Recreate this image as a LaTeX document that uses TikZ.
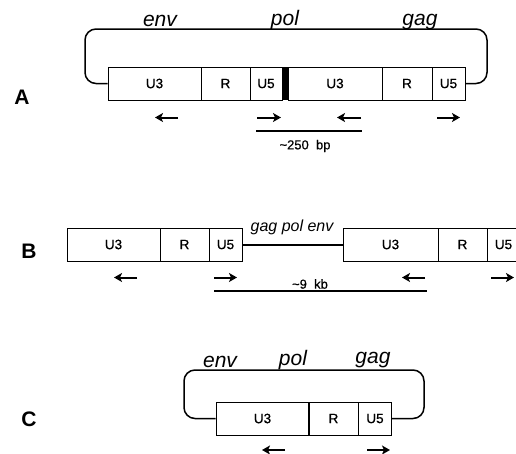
\documentclass[tikz,border=0pt]{standalone}
\usepackage{fontspec}
\setmainfont{Liberation Sans}
\newfontfamily\medfont[FakeBold=0.6]{Liberation Sans}
\usetikzlibrary{arrows.meta}
\tikzset{
 x=1pt,y=-1pt,
 cell/.style={draw=black,line width=1pt,inner sep=0pt,minimum height=33pt,font=\medfont\fontsize{13.5}{14}\selectfont},
 loopline/.style={draw=black,line width=1.5pt,rounded corners=11pt},
 primer/.style={draw=black,line width=2pt,-{Stealth[length=8pt,width=9pt,inset=2pt]}},
 spanline/.style={draw=black,line width=2pt},
 gene/.style={font=\fontsize{21}{21}\selectfont\itshape,inner sep=0pt,anchor=base},
 smalllabel/.style={font=\medfont\fontsize{13}{14}\selectfont,inner sep=0pt},
 panel/.style={font=\fontsize{21}{21}\selectfont\bfseries,inner sep=0pt},
}
\begin{document}
\begin{tikzpicture}
\useasboundingbox (0,0) rectangle (516,453);
% Panel A
\node[cell,minimum width=93pt] (a1) at (154.5,83.5) {U3};
\node[cell,minimum width=49pt] (a2) at (225.5,83.5) {R};
\node[cell,minimum width=32pt] (a3) at (266,83.5) {U5};
\node[cell,minimum width=94pt] (a4) at (335,83.5) {U3};
\node[cell,minimum width=50pt] (a5) at (407,83.5) {R};
\node[cell,minimum width=33pt] (a6) at (448.5,83.5) {U5};
\node[fill=black,inner sep=0pt,minimum width=6.5pt,minimum height=33pt] (abar) at (285,83.5) {};
\coordinate (al) at (85,29);
\coordinate (ar) at (487,29);
\draw[loopline] (a1.west) -- (al |- a1.west) -- (al) -- (ar) -- (ar |- a6.east) -- (a6.east);
\node[gene] (envA) at (160,26) {env};
\node[gene] (polA) at (285,25) {pol};
\node[gene] (gagA) at (420,25) {gag};
\node[panel] (lA) at (22,97) {A};
\foreach \n/\s/\e in {a/178/155,b/257/281,c/361/337,d/437/460}{
  \coordinate (ap\n s) at (\s,117.5); \coordinate (ap\n e) at (\e,117.5);
  \draw[primer] (ap\n s) -- (ap\n e);}
\coordinate (asl) at (256,131); \coordinate (asr) at (362,131);
\draw[spanline] (asl) -- (asr);
\node[smalllabel] (asz) at (305,146) {\textasciitilde250\ \ bp};
% Panel B
\node[cell,minimum width=93pt] (b1) at (113.5,244.5) {U3};
\node[cell,minimum width=49pt] (b2) at (184.5,244.5) {R};
\node[cell,minimum width=33pt] (b3) at (225.5,244.5) {U5};
\node[cell,minimum width=95pt] (b4) at (390.5,244.5) {U3};
\node[cell,minimum width=49pt] (b5) at (462.5,244.5) {R};
\node[cell,minimum width=33pt] (b6) at (503.5,244.5) {U5};
\draw[spanline] (b3.east) -- (b4.west);
\node[font=\fontsize{16}{16}\selectfont\itshape,inner sep=0pt,anchor=base] (genesB) at (292,231) {gag pol env};
\node[panel] (lB) at (29,251) {B};
\foreach \n/\s/\e in {a/137/114,b/214/237,c/425/402,d/491/514}{
  \coordinate (bp\n s) at (\s,277.5); \coordinate (bp\n e) at (\e,277.5);
  \draw[primer] (bp\n s) -- (bp\n e);}
\coordinate (bsl) at (214,291); \coordinate (bsr) at (427,291);
\draw[spanline] (bsl) -- (bsr);
\node[smalllabel] (bsz) at (310,284) {\textasciitilde9\ \ kb};
% Panel C
\node[cell,minimum width=93pt] (c1) at (262.5,418.5) {U3};
\node[cell,minimum width=50pt] (c2) at (333.5,418.5) {R};
\node[cell,minimum width=33pt] (c3) at (375,418.5) {U5};
\coordinate (cl) at (184,370);
\coordinate (cr) at (424,370);
\draw[loopline] (c1.west) -- (cl |- c1.west) -- (cl) -- (cr) -- (cr |- c3.east) -- (c3.east);
\node[gene] (envC) at (220,367) {env};
\node[gene] (polC) at (293,365) {pol};
\node[gene] (gagC) at (373,363) {gag};
\node[panel] (lC) at (29,419) {C};
\foreach \n/\s/\e in {a/285/262,b/367/390}{
  \coordinate (cp\n s) at (\s,450); \coordinate (cp\n e) at (\e,450);
  \draw[primer] (cp\n s) -- (cp\n e);}
\end{tikzpicture}
\end{document}
